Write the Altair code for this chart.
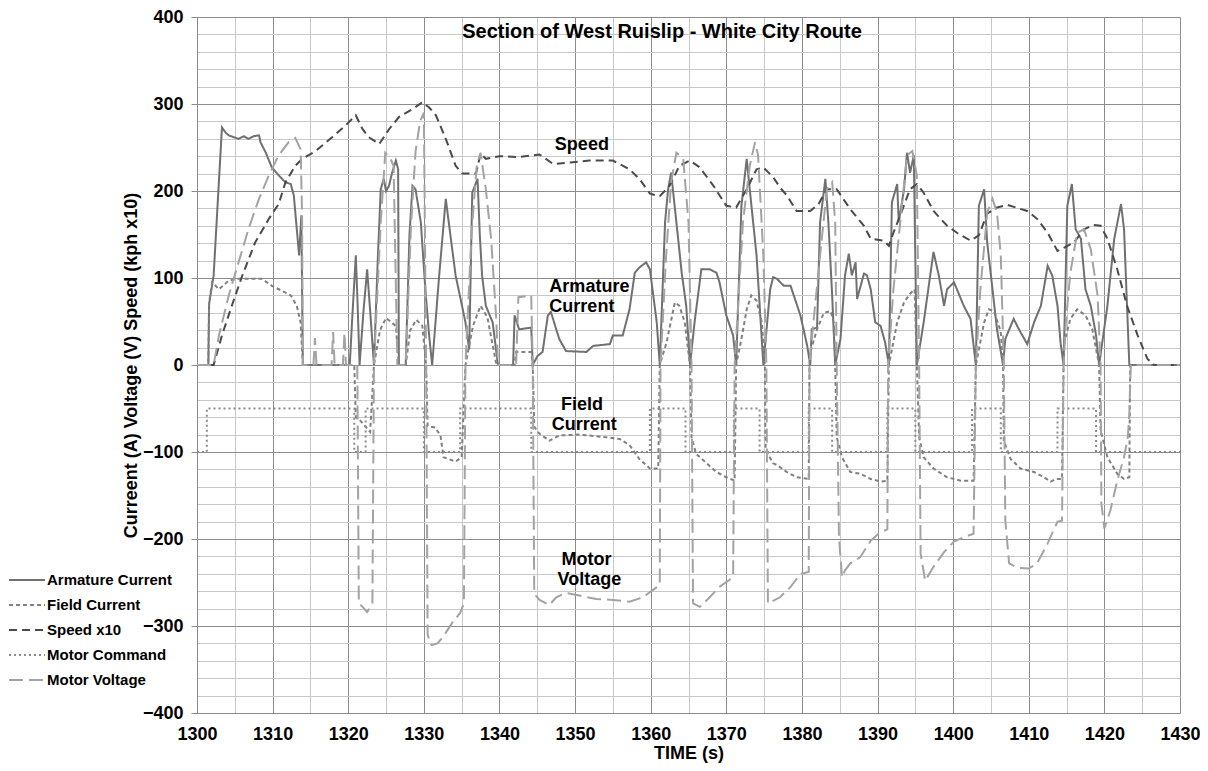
import altair as alt
import pandas as pd

FONT = "Liberation Sans"

series_names = ["Armature Current", "Field Current", "Speed x10", "Motor Command", "Motor Voltage"]
series_colors = ["#707070", "#808080", "#4a4a4a", "#8a8a8a", "#a3a3a3"]
series_dashes = [[1, 0], [4, 3], [8, 5], [2, 3], [14, 6]]

arm_t = [1300, 1301.5, 1301.6, 1302.2, 1303.3, 1303.8, 1304.2, 1304.8, 1305.5, 1306.2, 1306.8, 1307.5, 1308.2, 1308.4,
         1309.1, 1309.9, 1310.8, 1311.7, 1312.4, 1312.8, 1313.2, 1313.5, 1313.8, 1314.0, 1320.2, 1320.5, 1321.0, 1321.2,
         1321.5, 1322.0, 1322.5, 1323.0, 1323.4, 1323.9, 1324.3, 1324.7, 1325.0, 1325.4, 1325.8, 1326.3, 1326.6, 1326.7,
         1327.6, 1328.1, 1328.5, 1328.9, 1329.6, 1330.2, 1330.7, 1331.1, 1332.0, 1332.9, 1333.5, 1334.2, 1335.0, 1335.5,
         1336.0, 1336.4, 1337.1, 1337.4, 1337.7, 1338.2, 1339.1, 1339.8, 1341.8, 1342.0, 1342.6, 1344.2, 1344.4, 1345.0,
         1345.7, 1346.4, 1346.8, 1347.9, 1348.8, 1351.5, 1352.4, 1354.6, 1355.0, 1356.3, 1357.2, 1357.9, 1358.5, 1359.4,
         1359.9, 1360.8, 1361.2, 1361.9, 1362.3, 1362.7, 1363.4, 1364.1, 1364.7, 1365.2, 1365.8, 1366.7, 1367.8, 1368.7,
         1369.1, 1370.0, 1370.9, 1371.3, 1372.0, 1372.7, 1373.1, 1374.0, 1374.9, 1375.8, 1376.2, 1376.7, 1377.6, 1378.5,
         1379.8, 1380.7, 1381.1, 1381.3, 1382.0, 1382.4, 1383.1, 1383.5, 1384.0, 1384.4, 1385.1, 1385.7, 1386.2, 1386.6,
         1387.1, 1387.3, 1388.2, 1388.6, 1389.1, 1389.7, 1390.4, 1391.0, 1391.5, 1391.9, 1392.6, 1392.8, 1393.5, 1393.9,
         1394.3, 1394.8, 1395.2, 1396.1, 1397.4, 1398.1, 1398.8, 1399.2, 1400.1, 1400.5, 1401.4, 1402.3, 1403.0, 1403.4,
         1404.1, 1404.5, 1405.2, 1405.8, 1406.6, 1406.9, 1408.0, 1408.7, 1409.8, 1410.7, 1411.6, 1412.5, 1413.1, 1413.8,
         1414.2, 1414.6, 1415.1, 1415.7, 1416.2, 1416.9, 1417.5, 1418.2, 1418.9, 1419.3, 1420.4, 1421.3, 1422.2, 1422.6,
         1423.3, 1430]
arm_v = [0, 0, 70, 103, 273, 267, 264, 262, 260, 263, 260, 263, 264, 256,
         244, 227, 218, 210, 208, 195, 156, 126, 172, 0, 0, 49, 126, 80,
         0, 60, 110, 50, 0, 120, 202, 214, 200, 206, 221, 235, 225, 0,
         0, 150, 206, 202, 164, 87, 34, 0, 100, 191, 150, 103, 70, 49,
         18, 198, 214, 150, 103, 68, 49, 0, 0, 57, 41, 43, 0, 10,
         15, 57, 61, 30, 16, 15, 22, 24, 34, 34, 64, 106, 112, 118,
         110, 49, 0, 164, 202, 221, 164, 106, 68, 0, 49, 110, 110, 106,
         95, 57, 34, 0, 183, 237, 202, 126, 0, 87, 101, 99, 91, 91,
         57, 22, 0, 41, 43, 164, 214, 164, 80, 0, 30, 103, 128, 103,
         118, 76, 105, 103, 87, 49, 45, 26, 0, 187, 208, 164, 202, 244,
         221, 241, 0, 49, 130, 103, 68, 87, 95, 87, 68, 53, 0, 183,
         202, 141, 87, 41, 0, 30, 53, 41, 24, 49, 68, 114, 103, 68,
         26, 0, 183, 208, 156, 145, 87, 68, 34, 0, 68, 145, 185, 156,
         0, 0]

fld_t = [1300, 1301.5, 1301.6, 1302.0, 1302.9, 1304.2, 1305.5, 1307.7, 1308.6, 1309.9, 1311.3, 1312.4, 1313.2, 1313.7,
         1314.0, 1320.8, 1321.0, 1321.6, 1322.9, 1323.4, 1324.2, 1325.0, 1326.3, 1326.7, 1327.6, 1328.2, 1329.0, 1329.8,
         1330.3, 1330.5, 1331.5, 1332.2, 1332.6, 1334.2, 1335.0, 1335.5, 1336.5, 1337.5, 1338.4, 1339.6, 1342.0, 1342.2,
         1344.2, 1344.4, 1344.6, 1345.3, 1346.6, 1347.9, 1350.6, 1354.1, 1355.9, 1357.2, 1358.5, 1359.9, 1361.0, 1361.2,
         1362.1, 1363.2, 1363.8, 1364.5, 1365.2, 1365.4, 1366.0, 1367.4, 1368.7, 1370.0, 1371.1, 1371.3, 1372.0, 1372.7,
         1373.3, 1374.0, 1374.7, 1375.1, 1375.2, 1376.2, 1376.7, 1378.0, 1379.3, 1380.9, 1381.0, 1381.1, 1382.0, 1382.9,
         1383.8, 1384.2, 1384.4, 1384.6, 1385.3, 1386.4, 1387.7, 1389.1, 1390.4, 1391.3, 1391.5, 1392.6, 1393.5, 1394.3,
         1394.9, 1395.2, 1395.5, 1396.1, 1397.4, 1399.2, 1401.0, 1402.7, 1403.0, 1404.1, 1404.7, 1405.4, 1406.3, 1406.6,
         1406.7, 1407.6, 1408.9, 1410.7, 1412.0, 1412.9, 1413.6, 1414.4, 1414.6, 1414.7, 1415.5, 1416.4, 1417.5, 1418.4,
         1419.3, 1419.5, 1420.4, 1421.7, 1422.6, 1423.3, 1423.4, 1430]
fld_v = [0, 0, 72, 95, 87, 97, 99, 99, 99, 91, 85, 80, 68, 49,
         0, 0, -60, -64, -77, 0, 40, 54, 45, 0, 0, 40, 52, 45,
         0, -70, -72, -81, -106, -111, -106, 0, 45, 68, 55, 0, 0, 15,
         15, 0, -71, -79, -87, -81, -80, -83, -85, -92, -108, -119, -119, 0,
         26, 72, 68, 49, 0, -83, -102, -113, -123, -129, -133, 0, 30, 64,
         80, 74, 49, 0, -98, -113, -115, -123, -129, -131, 0, 15, 41, 60,
         62, 49, 0, -83, -106, -123, -125, -131, -134, -133, 0, 49, 72, 82,
         87, 0, -83, -106, -119, -129, -133, -133, 0, 49, 64, 62, 38, 0,
         -87, -108, -119, -123, -129, -134, -131, -131, 0, 26, 53, 64, 57, 41,
         0, -75, -106, -125, -131, -129, 0, 0]

spd_t = [1300, 1302.2, 1303.3, 1304.6, 1306.0, 1307.7, 1309.5, 1310.8, 1311.7, 1313.0, 1313.9, 1315.7, 1317.9, 1319.6,
         1321.0, 1321.9, 1322.7, 1324.1, 1325.4, 1326.7, 1328.5, 1329.8, 1330.7, 1331.6, 1332.9, 1334.2, 1335.1, 1336.9,
         1337.5, 1338.2, 1340.0, 1342.6, 1345.3, 1347.1, 1349.7, 1351.9, 1355.0, 1357.2, 1358.5, 1359.9, 1361.2, 1362.5,
         1363.8, 1365.2, 1366.5, 1368.3, 1370.0, 1371.3, 1372.7, 1374.0, 1374.9, 1376.2, 1377.1, 1378.0, 1379.3, 1381.1,
         1382.2, 1383.3, 1384.6, 1386.4, 1388.2, 1389.1, 1390.8, 1391.5, 1392.1, 1393.0, 1394.3, 1395.2, 1396.1, 1397.4,
         1399.2, 1400.5, 1402.3, 1403.4, 1404.5, 1405.8, 1407.2, 1409.8, 1411.1, 1412.5, 1413.8, 1414.7, 1416.0, 1417.3,
         1418.6, 1419.5, 1420.4, 1421.7, 1423.0, 1424.4, 1425.7, 1426.6, 1430]
spd_v = [0, 0, 34, 68, 103, 141, 168, 185, 210, 229, 237, 246, 262, 275,
         287, 271, 262, 254, 271, 285, 294, 302, 296, 287, 260, 229, 220, 220,
         243, 237, 240, 239, 242, 231, 233, 235, 235, 225, 214, 197, 194, 206,
         229, 235, 227, 206, 183, 181, 202, 225, 227, 216, 204, 195, 177, 177,
         185, 202, 202, 179, 160, 145, 143, 137, 152, 172, 202, 208, 198, 177,
         160, 152, 143, 149, 174, 181, 184, 177, 168, 152, 131, 135, 141, 156,
         161, 160, 145, 110, 68, 34, 7, 0, 0]

cmd_t = [1300, 1301.3, 1301.3, 1320.8, 1320.8, 1322.3, 1322.3, 1330.0, 1330.0, 1334.8, 1334.8, 1344.2, 1344.2, 1359.9,
         1359.9, 1364.6, 1364.6, 1371.0, 1371.0, 1374.4, 1374.4, 1380.9, 1380.9, 1384.0, 1384.0, 1391.3, 1391.3, 1395.0,
         1395.0, 1402.5, 1402.5, 1406.3, 1406.3, 1413.8, 1413.8, 1418.9, 1418.9, 1430]
cmd_v = [-100, -100, -50, -50, -100, -100, -50, -50, -100, -100, -50, -50, -100, -100,
         -50, -50, -100, -100, -50, -50, -100, -100, -50, -50, -100, -100, -50, -50,
         -100, -100, -50, -50, -100, -100, -50, -50, -100, -100]

vol_t = [1300, 1302.2, 1302.9, 1304.2, 1305.5, 1306.8, 1308.2, 1309.5, 1310.8, 1312.1, 1313.0, 1313.7, 1313.9, 1314.0,
         1315.4, 1315.6, 1315.8, 1317.8, 1318.0, 1318.2, 1319.3, 1319.5, 1319.7, 1321.2, 1321.4, 1321.9, 1322.5, 1323.2,
         1323.4, 1324.3, 1324.9, 1325.6, 1326.0, 1326.5, 1327.6, 1328.3, 1328.9, 1329.5, 1330.0, 1330.3, 1330.5, 1331.0,
         1331.8, 1332.5, 1333.7, 1334.8, 1335.3, 1335.5, 1336.3, 1337.0, 1337.5, 1338.2, 1338.9, 1339.6, 1339.8, 1342.2,
         1342.5, 1344.2, 1344.4, 1344.6, 1345.3, 1346.6, 1347.5, 1348.8, 1350.6, 1352.8, 1355.0, 1357.2, 1359.0, 1359.9,
         1361.2, 1361.3, 1362.0, 1362.7, 1363.4, 1364.3, 1365.0, 1365.4, 1365.6, 1366.5, 1367.8, 1369.1, 1370.9, 1371.1,
         1372.2, 1373.1, 1373.8, 1374.2, 1374.9, 1375.3, 1375.5, 1377.1, 1378.5, 1379.8, 1380.9, 1381.0, 1381.3, 1382.4,
         1383.3, 1384.0, 1384.4, 1384.6, 1384.9, 1385.3, 1385.7, 1386.4, 1387.7, 1389.1, 1390.4, 1391.3, 1391.4, 1392.1,
         1393.0, 1393.9, 1394.6, 1395.2, 1395.5, 1395.7, 1396.3, 1397.4, 1398.8, 1400.1, 1401.4, 1402.7, 1403.0, 1403.6,
         1404.5, 1405.2, 1405.8, 1406.3, 1406.7, 1406.9, 1407.4, 1408.5, 1410.0, 1411.1, 1412.5, 1413.8, 1414.4, 1414.6,
         1414.9, 1415.5, 1416.4, 1417.3, 1418.2, 1419.1, 1419.5, 1419.6, 1420.0, 1420.8, 1421.7, 1422.6, 1423.1, 1423.3,
         1423.5, 1430]
vol_v = [0, 0, 34, 80, 118, 156, 191, 218, 241, 256, 261, 248, 172, 0,
         0, 31, 0, 0, 38, 0, 0, 37, 0, 0, -274, -278, -284, -274,
         0, 164, 244, 237, 229, 0, 0, 160, 245, 280, 290, 0, -310, -322,
         -320, -313, -297, -285, -274, 0, 150, 230, 244, 202, 145, 49, 0, 0,
         78, 80, 0, -263, -270, -276, -267, -262, -265, -269, -270, -272, -267, -261,
         -253, 0, 120, 210, 244, 237, 164, 0, -274, -278, -267, -255, -244, 0,
         164, 229, 256, 241, 126, 0, -274, -267, -255, -240, -238, 0, 30, 126,
         202, 210, 164, 0, -198, -244, -236, -228, -221, -202, -192, -189, 0, 87,
         164, 241, 246, 218, 0, -217, -248, -232, -215, -203, -198, -194, 0, 87,
         175, 191, 175, 126, 0, -179, -228, -233, -234, -228, -205, -180, -179, 0,
         49, 106, 152, 156, 133, 80, 0, -159, -188, -167, -133, -106, -83, -56,
         0, 0]

# in-plot annotation labels (data coordinates)
ann_center_text = ["Speed", "Field", "Current", "Motor", "Voltage"]
ann_center_t = [1350.9, 1350.9, 1351.2, 1351.5, 1351.9]
ann_center_v = [253, -46, -69, -224, -247]
ann_left_text = ["Armature", "Current"]
ann_left_t = [1346.6, 1346.6]
ann_left_v = [90, 67]
title_text = ["Section of West Ruislip - White City Route"]
title_t = [1361.5]
title_v = [383]

rows = []
for name, ts, vs in [("Armature Current", arm_t, arm_v), ("Field Current", fld_t, fld_v),
                     ("Speed x10", spd_t, spd_v), ("Motor Command", cmd_t, cmd_v),
                     ("Motor Voltage", vol_t, vol_v)]:
    for i, (t, v) in enumerate(zip(ts, vs)):
        rows.append({"series": name, "t": t, "v": v, "i": i})
df = pd.DataFrame(rows)

ann_c = pd.DataFrame({"t": ann_center_t, "v": ann_center_v, "label": ann_center_text})
ann_l = pd.DataFrame({"t": ann_left_t, "v": ann_left_v, "label": ann_left_text})
ttl = pd.DataFrame({"t": title_t, "v": title_v, "label": title_text})

x_scale = alt.Scale(domain=[1300, 1430], nice=False, zero=False)
y_scale = alt.Scale(domain=[-400, 400], nice=False, zero=False)

x_axis = alt.Axis(
    values=list(range(1300, 1431, 5)), format="d",
    labelExpr="datum.value % 10 === 0 ? datum.label : ''",
    ticks=False, labelPadding=12, titlePadding=1, labelFlush=False,
    gridColor={"condition": {"test": "datum.value % 10 === 0", "value": "#8c8c8c"}, "value": "#c8c8c8"},
    domainColor="#8c8c8c",
)
y_axis = alt.Axis(
    values=list(range(-400, 401, 20)), format="d",
    labelExpr="datum.value % 100 === 0 ? datum.label : ''",
    tickSize=6, tickColor="#8c8c8c", labelFlush=False,
    tickOpacity={"condition": {"test": "datum.value % 100 === 0", "value": 1}, "value": 0},
    labelPadding=8, titlePadding=2,
    gridColor={"condition": {"test": "datum.value % 100 === 0", "value": "#8c8c8c"}, "value": "#c8c8c8"},
    domainColor="#8c8c8c",
)

X = alt.X("t:Q", scale=x_scale, axis=x_axis, title="TIME (s)")
Y = alt.Y("v:Q", scale=y_scale, axis=y_axis, title="Curreent (A)  Voltage (V)  Speed (kph x10)")

legend = alt.Legend(
    orient="none", legendX=-189, legendY=553, title=None,
    symbolType="M-1,0H3", symbolSize=324, symbolStrokeWidth=2,
    labelFont=FONT, labelFontSize=15, labelFontWeight="bold", labelColor="#000",
    labelOffset=19, rowPadding=7, padding=0,
)

lines = alt.Chart(df).mark_line(strokeWidth=2, clip=True).encode(
    x=X, y=Y,
    color=alt.Color("series:N", scale=alt.Scale(domain=series_names, range=series_colors), legend=legend),
    strokeDash=alt.StrokeDash("series:N", scale=alt.Scale(domain=series_names, range=series_dashes), legend=legend),
    order="i:Q",
)

txt_c = alt.Chart(ann_c).mark_text(font=FONT, fontSize=18, fontWeight="bold", color="#000",
                                   align="center", baseline="middle").encode(x=X, y=Y, text="label:N")
txt_l = alt.Chart(ann_l).mark_text(font=FONT, fontSize=18, fontWeight="bold", color="#000",
                                   align="left", baseline="middle").encode(x=X, y=Y, text="label:N")
txt_t = alt.Chart(ttl).mark_text(font=FONT, fontSize=20, fontWeight="bold", color="#000",
                                 align="center", baseline="middle").encode(x=X, y=Y, text="label:N")

chart = alt.layer(lines, txt_c, txt_l, txt_t).properties(
    width=983, height=696,
    padding={"left": 189, "top": 9, "right": 20, "bottom": 50},
    autosize=alt.AutoSizeParams(type="none"),
).configure_view(stroke=None).configure_axis(
    labelFont=FONT, labelFontSize=18, labelFontWeight="bold", labelColor="#000",
    titleFont=FONT, titleFontSize=18, titleFontWeight="bold", titleColor="#000",
    gridWidth=1,
)

chart.save("out.html", embed_options={"renderer": "svg", "actions": False})
